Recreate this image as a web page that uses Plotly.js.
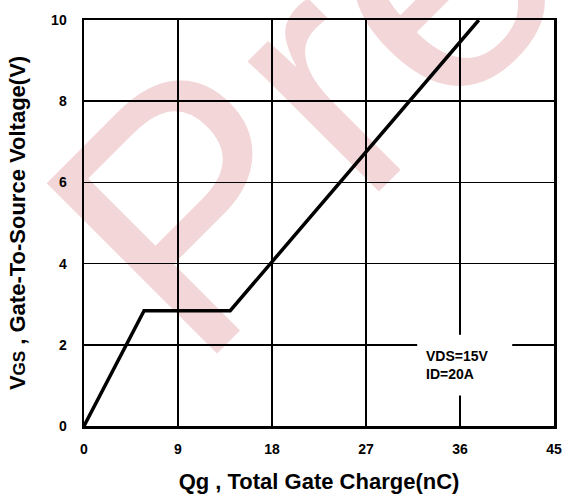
<!DOCTYPE html>
<html>
<head>
<meta charset="utf-8">
<script src="https://cdn.plot.ly/plotly-3.0.1.min.js"></script>
<style>html,body{margin:0;padding:0;background:#fff;}</style>
</head>
<body>
<div id="chart" style="width:565px;height:498px;"></div>
<script>
// Gate charge curve
const qg  = [0, 5.75, 14.0, 37.8];
const vgs = [0, 2.84, 2.84, 10.0];
const xTicks = [0, 9, 18, 27, 36, 45];
const yTicks = [0, 2, 4, 6, 8, 10];
const condText = ['VDS=15V', 'ID=20A'];
const watermark = 'Pre';

const tickFont = {family: 'Arial, Liberation Sans, sans-serif', size: 14, color: '#000', weight: 'bold'};
const titleFont = {family: 'Arial, Liberation Sans, sans-serif', size: 22, color: '#000', weight: 'bold'};

const trace = {
  x: qg, y: vgs, type: 'scatter', mode: 'lines',
  line: {color: '#000', width: 3.5},
  hoverinfo: 'skip', showlegend: false
};

const axisCommon = {
  showgrid: true, gridcolor: '#000', gridwidth: 1.5,
  showline: true, mirror: true, linecolor: '#000', linewidth: 2.5,
  zeroline: false, ticks: '', tickfont: tickFont, automargin: false,
  fixedrange: true
};

const layout = {
  width: 565, height: 498,
  margin: {l: 84, r: 11, t: 20, b: 72},
  paper_bgcolor: '#fff', plot_bgcolor: 'rgba(0,0,0,0)',
  showlegend: false,
  xaxis: Object.assign({}, axisCommon, {
    range: [0, 45], tickmode: 'array', tickvals: xTicks, ticktext: xTicks.map(String),
    ticklabelstandoff: 9,
    title: {text: 'Qg , Total Gate Charge(nC)', font: titleFont, standoff: 18}
  }),
  yaxis: Object.assign({}, axisCommon, {
    range: [0, 10], tickmode: 'array', tickvals: yTicks, ticktext: yTicks.map(String),
    ticklabelstandoff: 12,
    title: {text: 'V<span style="font-size:17px">GS</span> , Gate-To-Source Voltage(V)', font: titleFont, standoff: 20}
  }),
  shapes: [
    {
      type: 'rect', xref: 'paper', yref: 'paper', layer: 'below',
      x0: 0.407, x1: 0.427, y0: 0.862, y1: 0.882,
      line: {width: 0}, fillcolor: 'rgba(0,0,0,0)',
      label: {text: watermark, textangle: -45, textposition: 'middle center',
              font: {family: 'Arial, Liberation Sans, sans-serif', size: 350, color: '#f2d6d8'}}
    },
    {
      type: 'rect', xref: 'x', yref: 'y', layer: 'above',
      x0: 31.9, x1: 41.0, y0: 0.75, y1: 2.25,
      line: {width: 0}, fillcolor: '#fff'
    }
  ],
  annotations: [
    {
      xref: 'x', yref: 'y', x: 32.6, y: 1.5, xanchor: 'left', yanchor: 'middle',
      text: condText.join('<br>'), showarrow: false, align: 'left',
      font: {family: 'Arial, Liberation Sans, sans-serif', size: 14, color: '#000', weight: 'bold'}
    }
  ]
};

Plotly.newPlot('chart', [trace], layout, {displayModeBar: false, staticPlot: true});
</script>
</body>
</html>
